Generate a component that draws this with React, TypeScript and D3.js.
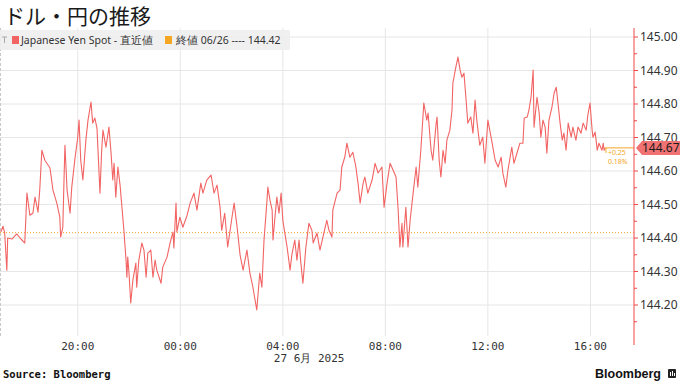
import React from "react";
import * as d3 from "d3";

// ---------- data ----------
const chartTitle = "ドル・円の推移";
const seriesName = "Japanese Yen Spot - 直近値";
const prevCloseName = "終値 06/26 ---- ";
const prevClose = 144.416;
const changeAbsLabel = "+0.25";
const changePctLabel = "0.18%";
const dateLabel = "27 6月 2025";
const sourceLabel = "Source: Bloomberg";
const brandLabel = "Bloomberg";

// session start (26 Jun 2025 17:00) and axis window
const sessionStart = new Date(2025, 5, 26, 17, 0);
const axisStart = new Date(2025, 5, 26, 16, 58);
const axisEnd = new Date(2025, 5, 27, 17, 42);
const xTickTimes = [
  new Date(2025, 5, 26, 20, 0),
  new Date(2025, 5, 27, 0, 0),
  new Date(2025, 5, 27, 4, 0),
  new Date(2025, 5, 27, 8, 0),
  new Date(2025, 5, 27, 12, 0),
  new Date(2025, 5, 27, 16, 0),
];
const yMajorTicks = [144.2, 144.3, 144.4, 144.5, 144.6, 144.7, 144.8, 144.9, 145.0];

// [minutes after session start, USD/JPY]
const yenSpot: [number, number][] = [
  [0,144.418],[5,144.435],[9,144.415],[14,144.304],[16,144.400],[26,144.397],[37,144.412],[47,144.397],[56,144.385],[61,144.534],
  [68,144.468],[75,144.474],[80,144.522],[87,144.477],[91,144.543],[96,144.662],[103,144.632],[115,144.609],[122,144.543],[131,144.504],
  [138,144.462],[140,144.403],[145,144.432],[148,144.582],[150,144.677],[155,144.543],[162,144.474],[166,144.552],[173,144.632],[180,144.701],
  [183,144.752],[187,144.632],[192,144.573],[199,144.692],[204,144.752],[211,144.806],[215,144.743],[220,144.758],[225,144.728],[232,144.534],
  [236,144.662],[239,144.722],[246,144.671],[253,144.731],[258,144.653],[262,144.573],[265,144.623],[269,144.522],[274,144.612],[279,144.558],
  [283,144.498],[288,144.423],[293,144.334],[295,144.283],[297,144.343],[300,144.295],[304,144.206],
  [309,144.274],[316,144.325],[318,144.253],[323,144.334],[330,144.385],[335,144.364],[340,144.283],[344,144.355],[351,144.364],[356,144.283],
  [361,144.334],[365,144.304],[375,144.265],[379,144.313],[389,144.343],[396,144.385],[403,144.418],[405,144.370],[410,144.504],[412,144.418],
  [419,144.462],[426,144.432],[436,144.468],[443,144.504],[452,144.534],[459,144.483],[468,144.564],[473,144.534],[482,144.573],[492,144.588],
  [499,144.534],[506,144.558],[513,144.492],[517,144.423],[524,144.474],[531,144.373],[541,144.462],[546,144.504],[553,144.432],[560,144.349],
  [567,144.304],[576,144.364],
  [583,144.295],[590,144.253],[599,144.185],[606,144.295],[611,144.253],[616,144.394],[623,144.513],[625,144.552],[630,144.513],[635,144.483],
  [637,144.394],[642,144.468],[646,144.522],[651,144.474],[656,144.534],[660,144.453],[670,144.373],[677,144.304],[681,144.349],[688,144.394],
  [693,144.334],[698,144.394],[702,144.328],[707,144.265],[714,144.373],[721,144.444],[728,144.423],[731,144.385],[740,144.415],[747,144.364],
  [754,144.403],[763,144.453],[768,144.423],[775,144.403],[777,144.483],[787,144.534],[794,144.543],[798,144.612],[805,144.641],[810,144.683],
  [817,144.641],[824,144.656],[831,144.612],[836,144.564],[841,144.504],[848,144.564],[852,144.582],[859,144.534],[869,144.573],[876,144.623],
  [883,144.594],[892,144.612],[897,144.492],[904,144.564],[911,144.623],[918,144.603],[925,144.582],[930,144.483],[934,144.373],[939,144.444],
  [941,144.373],[948,144.492],[953,144.373],[958,144.453],[965,144.534],[972,144.612],[976,144.552],[983,144.662],[988,144.761],[990,144.803],
  [997,144.752],[1000,144.773],[1007,144.662],[1011,144.632],[1019,144.743],[1021,144.761],[1026,144.632],[1030,144.582],[1035,144.662],[1040,144.623],
  [1044,144.692],[1051,144.722],[1056,144.782],[1058,144.862],[1065,144.910],[1070,144.940],[1075,144.901],[1079,144.880],[1084,144.892],[1089,144.812],
  [1093,144.743],[1100,144.761],[1105,144.713],[1110,144.812],[1114,144.752],[1121,144.677],[1128,144.701],[1133,144.623],[1140,144.752],
  [1150,144.683],[1157,144.632],[1164,144.612],[1171,144.641],[1175,144.594],[1182,144.552],[1187,144.603],[1196,144.671],[1201,144.623],[1208,144.653],
  [1215,144.683],[1222,144.683],[1225,144.758],[1232,144.761],[1236,144.782],[1241,144.820],[1246,144.901],[1248,144.731],[1255,144.820],[1260,144.773],
  [1264,144.701],[1269,144.752],[1274,144.731],[1278,144.653],[1283,144.752],[1290,144.791],[1295,144.832],[1300,144.850],[1304,144.803],[1309,144.743],
  [1314,144.692],[1318,144.713],[1323,144.662],[1328,144.743],[1335,144.701],[1339,144.731],[1346,144.692],[1351,144.731],[1358,144.713],[1363,144.743],
  [1370,144.722],[1374,144.767],[1379,144.803],[1384,144.722],[1386,144.701],[1391,144.716],[1396,144.662],[1400,144.683],[1407,144.662],[1410,144.683],
  [1412,144.662],[1414,144.669],
];

// ---------- layout ----------
const W = 680;
const H = 382;
const plotLeft = 0;
const plotRight = 634;
const plotTop = 28;
const gridBottom = 336;
const axisBottom = 345;

const lineColor = "#f26464";
const orange = "#f5a623";
const gridColor = "#e6e6e6";
const textColor = "#333333";
const sansFont = "'Noto Sans', 'Liberation Sans', sans-serif";
const monoFont = "'DejaVu Sans Mono', monospace";

export default function App() {
  const x = d3.scaleTime().domain([axisStart, axisEnd]).range([plotLeft, plotRight]);
  const y = d3.scaleLinear().domain([144.2, 145.0]).range([305, 37]);

  const points = yenSpot.map(([m, v]) => ({
    t: new Date(sessionStart.getTime() + m * 60000),
    v,
  }));
  const line = d3
    .line<{ t: Date; v: number }>()
    .x((d) => x(d.t))
    .y((d) => y(d.v));

  const fmtTime = d3.timeFormat("%H:%M");
  const minorScale = d3.scaleLinear().domain([y.invert(gridBottom), y.invert(plotTop)]);
  const minorTicks = minorScale.ticks(20).filter((v) => y(v) >= plotTop && y(v) <= gridBottom);

  const last = points[points.length - 1];
  const lastX = x(last.t);
  const lastY = y(last.v);
  const prevY = y(prevClose);

  return (
    <svg
      width={W}
      height={H}
      style={{ position: "absolute", left: 0, top: 0, background: "#fff" }}
    >
      {/* title */}
      <text
        x={4}
        y={24}
        fontSize={21}
        fill="#1a1a1a"
        style={{ fontFamily: "'Noto Sans CJK JP', sans-serif" }}
      >
        {chartTitle}
      </text>

      {/* grid */}
      {yMajorTicks.map((v) => (
        <line key={"hg" + v} x1={plotLeft} x2={plotRight} y1={y(v)} y2={y(v)} stroke={gridColor} strokeWidth={1} />
      ))}
      {xTickTimes.map((t) => (
        <line key={"vg" + t.getTime()} x1={x(t)} x2={x(t)} y1={plotTop} y2={gridBottom} stroke={gridColor} strokeWidth={1} />
      ))}
      <line x1={0.5} x2={0.5} y1={plotTop} y2={gridBottom} stroke="#c8c8c8" strokeDasharray="3,2" />

      {/* previous close dotted line */}
      <line x1={plotLeft} x2={plotRight} y1={prevY} y2={prevY} stroke={orange} strokeWidth={1} strokeDasharray="1,2" />

      {/* series */}
      <path d={line(points) || ""} fill="none" stroke={lineColor} strokeWidth={1.1} strokeLinejoin="round" />

      {/* last value marker line */}
      <line x1={lastX} x2={plotRight} y1={lastY} y2={lastY} stroke={orange} strokeWidth={1} />
      <line x1={lastX + 1} x2={lastX + 1} y1={lastY} y2={lastY + 5} stroke={orange} strokeWidth={1} />
      <text x={lastX + 3} y={lastY + 7} fontSize={7} fill={orange} style={{ fontFamily: sansFont }}>
        {changeAbsLabel}
      </text>
      <text x={lastX + 3} y={lastY + 16} fontSize={7} fill={orange} style={{ fontFamily: sansFont }}>
        {changePctLabel}
      </text>

      {/* right axis */}
      <line x1={plotRight} x2={plotRight} y1={plotTop} y2={axisBottom} stroke="#f04848" strokeWidth={1} />
      {minorTicks.map((v) => {
        const major = Math.round(v * 100) % 10 === 0;
        return (
          <line
            key={"mt" + v}
            x1={plotRight}
            x2={plotRight + (major ? 4 : 3)}
            y1={y(v)}
            y2={y(v)}
            stroke="#f04848"
            strokeWidth={1}
          />
        );
      })}
      {yMajorTicks.map((v) => (
        <text
          key={"yl" + v}
          x={plotRight + 6}
          y={y(v)}
          dy="0.35em"
          fontSize={12}
          fill={textColor}
          style={{ fontFamily: sansFont }}
        >
          {v.toFixed(2)}
        </text>
      ))}

      {/* end label */}
      <path
        d={`M${plotRight + 2},${lastY} L${plotRight + 8},${lastY - 7} L${W},${lastY - 7} L${W},${lastY + 7} L${plotRight + 8},${lastY + 7} Z`}
        fill="#f07272"
      />
      <text
        x={plotRight + 8}
        y={lastY}
        dy="0.36em"
        fontSize={12}
        fill="#1a1a1a"
        style={{ fontFamily: sansFont }}
      >
        {last.v.toFixed(2)}
      </text>

      {/* bottom axis labels */}
      {xTickTimes.map((t) => (
        <text
          key={"xl" + t.getTime()}
          x={x(t)}
          y={350}
          textAnchor="middle"
          fontSize={11}
          fill={textColor}
          style={{ fontFamily: monoFont }}
        >
          {fmtTime(t)}
        </text>
      ))}
      <text x={x(xTickTimes[2]) - 9} y={362} fontSize={11} fill={textColor} style={{ fontFamily: monoFont }}>
        {dateLabel}
      </text>

      {/* legend */}
      <rect x={0} y={30} width={290} height={20} fill="#eeeeee" opacity={0.9} />
      <line x1={2} x2={7} y1={37} y2={37} stroke="#aaa" />
      <line x1={4.5} x2={4.5} y1={37} y2={43} stroke="#aaa" />
      <rect x={12} y={36} width={7} height={8} fill={lineColor} />
      <text x={21} y={44} fontSize={10.5} fill={textColor} style={{ fontFamily: sansFont }}>
        {seriesName}
      </text>
      <rect x={165} y={36} width={7} height={8} fill={orange} />
      <text x={176} y={44} fontSize={10.5} fill={textColor} style={{ fontFamily: sansFont }}>
        {prevCloseName + prevClose.toFixed(2)}
      </text>

      {/* footer */}
      <text x={3} y={378} fontSize={10.5} fontWeight="bold" fill="#111" style={{ fontFamily: monoFont }}>
        {sourceLabel}
      </text>
      <text x={595} y={378} fontSize={12.5} fontWeight="bold" fill="#111" style={{ fontFamily: "'Liberation Sans', sans-serif" }}>
        {brandLabel}
      </text>
      <rect x={668} y={369} width={8} height={9} rx={1} fill="#222" />
      <rect x={670} y={372} width={1} height={4} fill="#fff" />
      <rect x={672} y={371} width={1} height={5} fill="#fff" />
      <rect x={674} y={373} width={1} height={3} fill="#fff" />
    </svg>
  );
}
